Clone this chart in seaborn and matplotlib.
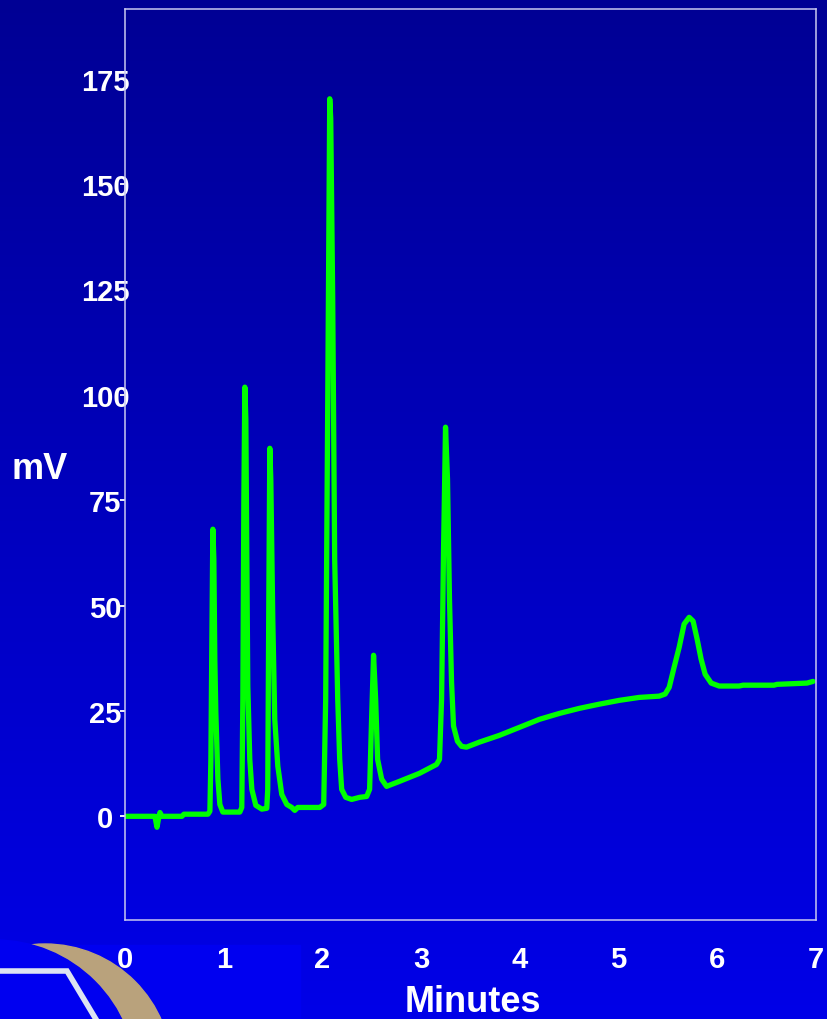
import numpy as np
import pandas as pd
import matplotlib
matplotlib.use("Agg")
import matplotlib.pyplot as plt
from matplotlib.patches import Circle, Rectangle
import seaborn as sns

# Chromatogram trace: retention time (min) and detector signal (mV)
minutes = [
    0.000, 0.253, 0.303, 0.324, 0.344, 0.354, 0.374, 0.577, 0.597, 0.840,
    0.860, 0.870, 0.880, 0.890, 0.900, 0.910, 0.920, 0.941, 0.961, 0.991,
    1.163, 1.183, 1.194, 1.204, 1.214, 1.224, 1.234, 1.244, 1.264, 1.285,
    1.325, 1.386, 1.436, 1.446, 1.457, 1.467, 1.477, 1.497, 1.517, 1.548,
    1.588, 1.639, 1.689, 1.720, 1.750, 1.973, 2.013, 2.033, 2.054, 2.074,
    2.084, 2.104, 2.124, 2.155, 2.175, 2.195, 2.236, 2.296, 2.377, 2.448,
    2.478, 2.498, 2.518, 2.539, 2.559, 2.600, 2.650, 2.782, 2.984, 3.156,
    3.186, 3.207, 3.227, 3.247, 3.267, 3.287, 3.308, 3.328, 3.368, 3.409,
    3.459, 3.591, 3.793, 3.996, 4.198, 4.400, 4.602, 4.805, 5.007, 5.209,
    5.412, 5.472, 5.513, 5.563, 5.614, 5.664, 5.715, 5.755, 5.796, 5.836,
    5.877, 5.938, 6.019, 6.221, 6.261, 6.575, 6.605, 6.909, 6.970,
]
signal_mv = [
    0.0, 0.0, 0.0, -2.6, 0.0, 0.9, 0.0, 0.0, 0.5, 0.5,
    1.2, 13.5, 42.0, 68.1, 61.0, 37.0, 24.7, 8.8, 2.8, 1.0,
    1.0, 2.1, 27.8, 75.0, 101.8, 94.2, 61.0, 30.9, 13.5, 6.4,
    2.6, 1.7, 1.9, 6.4, 51.5, 87.3, 80.0, 46.8, 23.0, 11.9,
    5.2, 2.8, 2.1, 1.4, 2.1, 2.1, 2.8, 27.8, 99.0, 170.2,
    165.5, 122.7, 61.0, 27.8, 13.5, 6.4, 4.5, 4.0, 4.5, 4.7,
    6.4, 23.0, 38.2, 27.8, 13.5, 8.8, 7.1, 8.3, 10.2, 12.3,
    13.5, 27.8, 63.4, 92.3, 80.0, 51.5, 31.8, 21.4, 17.8, 16.6,
    16.4, 17.6, 19.2, 21.1, 23.0, 24.4, 25.6, 26.6, 27.5, 28.2,
    28.5, 29.0, 30.6, 35.4, 40.1, 45.6, 47.2, 46.3, 42.0, 37.3,
    33.7, 31.6, 30.9, 30.9, 31.1, 31.1, 31.3, 31.6, 32.0,
]

y_ticks = [0, 25, 50, 75, 100, 125, 150, 175]
x_ticks = [0, 1, 2, 3, 4, 5, 6, 7]

trace = pd.DataFrame({"Minutes": minutes, "mV": signal_mv})

W, H = 827, 1020
fig = plt.figure(figsize=(W / 100, H / 100), dpi=100)

# Vertical blue gradient backdrop
bg = fig.add_axes([0, 0, 1, 1], zorder=-10)
grad = np.linspace(0, 1, 256)[:, None]
top = np.array([0.0, 0.0, 0x94 / 255])
bottom = np.array([0.0, 0.0, 0xE8 / 255])
img = top[None, None, :] * (1 - grad[..., None]) + bottom[None, None, :] * grad[..., None]
img = np.repeat(img, 2, axis=1)
bg.imshow(img, extent=[0, W, H, 0], aspect="auto", interpolation="bilinear")
bg.set_xlim(0, W)
bg.set_ylim(H, 0)
bg.axis("off")

# Emblem in the lower-left corner
bg.add_patch(Rectangle((0, 946), 300, 80, color="#0000F0", zorder=1))
bg.add_patch(Circle((45, 1072), 127, color="#B9A27C", zorder=2))
bg.add_patch(Circle((-5, 1082), 141, color="#0000F0", zorder=3))
bg.plot([0, 67, 97], [972, 972, 1022], color="#DDE4F2", lw=4, zorder=4,
        solid_joinstyle="miter")

# Main chart axes
ax = fig.add_axes([125 / W, 1 - 921 / H, (816 - 125) / W, (921 - 10) / H])
ax.set_facecolor("none")
sns.lineplot(data=trace, x="Minutes", y="mV", ax=ax, color="#00FF00",
             linewidth=3.8, sort=False, estimator=None)
for line in ax.get_lines():
    line.set_solid_joinstyle("round")
    line.set_solid_capstyle("round")

ax.set_xlim(0, 7)
ax.set_ylim(-24.6, 191.5)
ax.set_xticks(x_ticks)
ax.set_yticks(y_ticks)
ax.set_xticklabels([str(v) for v in x_ticks])
ax.set_yticklabels([str(v) for v in y_ticks])
ax.set_xlabel("")
ax.set_ylabel("")

for side in ["left", "right", "top", "bottom"]:
    ax.spines[side].set_color("#C8C8F0")
    ax.spines[side].set_linewidth(1.1)

tick_font = dict(family=["Liberation Sans", "DejaVu Sans"], weight="bold", size=21)
ax.tick_params(axis="y", length=3.6, width=1.3, color="white", pad=10.5,
               labelcolor="white")
ax.tick_params(axis="x", length=0, pad=18, labelcolor="white")
for lab in ax.get_yticklabels():
    lab.set_fontproperties(matplotlib.font_manager.FontProperties(**tick_font))
    lab.set_ha("center")
for lab in ax.get_xticklabels():
    lab.set_fontproperties(matplotlib.font_manager.FontProperties(**tick_font))

label_font = dict(family=["Liberation Sans", "DejaVu Sans"], weight="bold",
                  size=26, color="white")
fig.text(40 / W, 1 - 470 / H, "mV", ha="center", va="center", **label_font)
fig.text(473 / W, 1 - 1003 / H, "Minutes", ha="center", va="center", **label_font)

fig.savefig("out.png", dpi=100)
